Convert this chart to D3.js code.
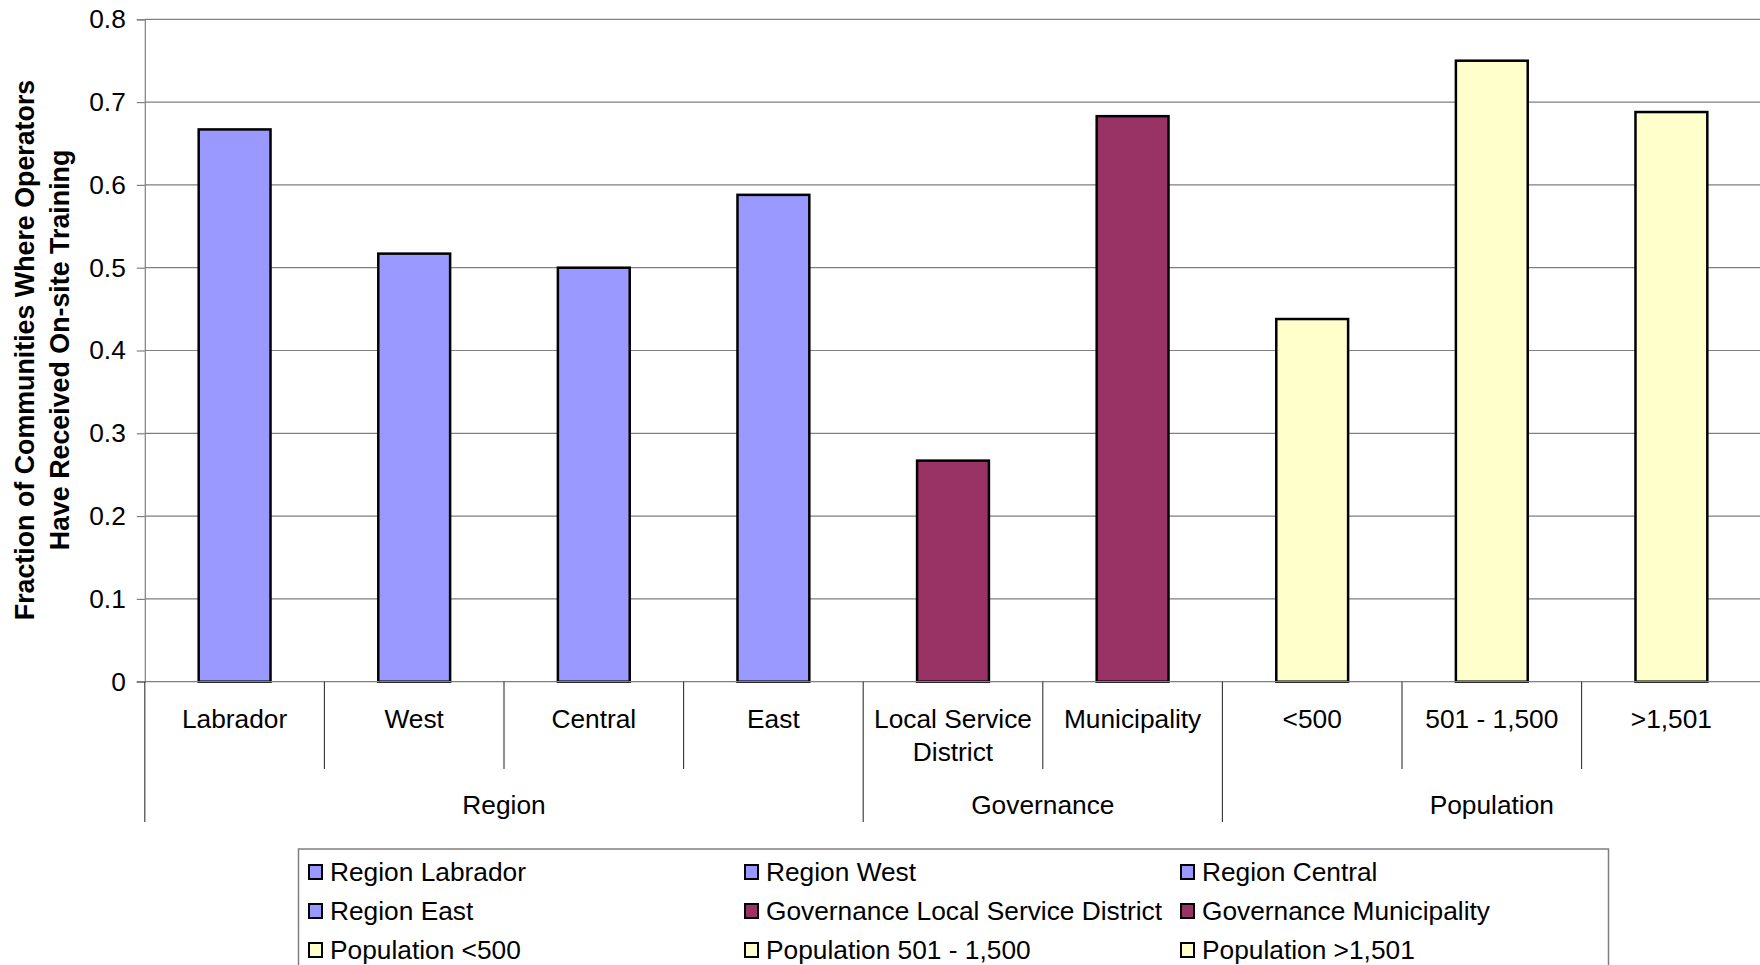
<!DOCTYPE html>
<html>
<head>
<meta charset="utf-8">
<script src="https://cdn.jsdelivr.net/npm/d3@7"></script>
<style>
  html, body { margin: 0; padding: 0; background: #fff; }
  svg { display: block; font-family: "Liberation Sans", Arial, sans-serif; }
</style>
</head>
<body>
<svg id="chart" width="1760" height="965"></svg>
<script>
// Chart data
const groups = ["Region", "Governance", "Population"];
const categories = ["Labrador", "West", "Central", "East", "Local Service District", "Municipality", "<500", "501 - 1,500", ">1,501"];
const categoryGroup = [0, 0, 0, 0, 1, 1, 2, 2, 2];
const values = [0.667, 0.517, 0.5, 0.588, 0.267, 0.683, 0.438, 0.75, 0.688];
const groupColors = ["#9999FF", "#993366", "#FFFFCC"];
const yTicks = [0, 0.1, 0.2, 0.3, 0.4, 0.5, 0.6, 0.7, 0.8];
const yTitleLines = ["Fraction of Communities Where Operators", "Have Received On-site Training"];

const svg = d3.select("#chart");
const W = 1760;
const plot = { left: 144.8, right: 1761.2, top: 19.3, bottom: 681.7 };
const fontSize = 26.3;

const x = d3.scaleBand()
  .domain(categories.map((d, i) => i))
  .range([plot.left, plot.right])
  .paddingInner(0).paddingOuter(0);

const y = d3.scaleLinear().domain([0, 0.8]).range([plot.bottom, plot.top]);

// Horizontal gridlines
svg.append("g")
  .selectAll("line")
  .data(yTicks.filter(t => t > 0))
  .join("line")
  .attr("x1", plot.left).attr("x2", W)
  .attr("y1", d => y(d)).attr("y2", d => y(d))
  .attr("stroke", "#7f7f7f").attr("stroke-width", 1.2);

// Y axis
const yAxis = svg.append("g")
  .attr("transform", `translate(${plot.left},0)`)
  .call(d3.axisLeft(y).tickValues(yTicks).tickSize(8).tickPadding(11)
    .tickFormat(d => d === 0 ? "0" : d3.format(".1f")(d)));
yAxis.select(".domain").attr("stroke", "#7f7f7f").attr("stroke-width", 1.2);
yAxis.selectAll(".tick line").attr("stroke", "#7f7f7f").attr("stroke-width", 1.2);
yAxis.selectAll(".tick text")
  .attr("font-size", fontSize)
  .attr("font-family", "Liberation Sans, Arial, sans-serif")
  .attr("fill", "#000");

// Bars
svg.append("g")
  .selectAll("rect")
  .data(values)
  .join("rect")
  .attr("x", (d, i) => x(i) + x.bandwidth() * 0.3)
  .attr("width", x.bandwidth() * 0.4)
  .attr("y", d => y(d))
  .attr("height", d => y(0) - y(d))
  .attr("fill", (d, i) => groupColors[categoryGroup[i]])
  .attr("stroke", "#000")
  .attr("stroke-width", 2.5);

// Category axis line
svg.append("line")
  .attr("x1", plot.left - 8).attr("x2", W)
  .attr("y1", y(0)).attr("y2", y(0))
  .attr("stroke", "#7f7f7f").attr("stroke-width", 1.2);

// Category separators (short) and group separators (long)
const innerBottom = 769;
const groupBottom = 822;
const boundaries = d3.range(categories.length + 1);
svg.append("g")
  .selectAll("line")
  .data(boundaries)
  .join("line")
  .attr("x1", i => i < categories.length ? x(i) : plot.right)
  .attr("x2", i => i < categories.length ? x(i) : plot.right)
  .attr("y1", y(0))
  .attr("y2", i => (i === 0 || i === categories.length || categoryGroup[i] !== categoryGroup[i - 1]) ? groupBottom : innerBottom)
  .attr("stroke", "#333").attr("stroke-width", 1.1);

// Category labels, wrapped to the band width
const catLabels = svg.append("g")
  .attr("font-size", fontSize)
  .attr("text-anchor", "middle")
  .attr("fill", "#000");
categories.forEach((name, i) => {
  const cx = x(i) + x.bandwidth() / 2;
  const t = catLabels.append("text").attr("x", cx).attr("y", 728);
  const words = name.split(" ");
  let line = [];
  let tspan = t.append("tspan").attr("x", cx).attr("y", 728);
  let lineNo = 0;
  words.forEach(w => {
    line.push(w);
    tspan.text(line.join(" "));
    if (tspan.node().getComputedTextLength() > x.bandwidth() - 8 && line.length > 1) {
      line.pop();
      tspan.text(line.join(" "));
      line = [w];
      lineNo++;
      tspan = t.append("tspan").attr("x", cx).attr("y", 728 + lineNo * 33).text(w);
    }
  });
});

// Group labels
svg.append("g")
  .attr("font-size", fontSize)
  .attr("text-anchor", "middle")
  .selectAll("text")
  .data(groups)
  .join("text")
  .attr("x", (g, gi) => {
    const idx = categoryGroup.map((c, i) => c === gi ? i : -1).filter(i => i >= 0);
    return (x(idx[0]) + x(idx[idx.length - 1]) + x.bandwidth()) / 2;
  })
  .attr("y", 814)
  .text(d => d);

// Y axis title
const yTitle = svg.append("text")
  .attr("transform", "translate(0,350) rotate(-90)")
  .attr("font-size", 26.8)
  .attr("font-weight", "bold")
  .attr("text-anchor", "middle");
yTitleLines.forEach((l, i) => {
  yTitle.append("tspan").attr("x", 0).attr("y", 34 + i * 35).text(l);
});

// Legend
const legend = svg.append("g");
legend.append("rect")
  .attr("x", 298.5).attr("y", 849)
  .attr("width", 1310).attr("height", 140)
  .attr("fill", "#fff").attr("stroke", "#7f7f7f").attr("stroke-width", 1.5);
const colX = [309, 745, 1181];
const rowY = [872, 911, 950];
categories.forEach((name, i) => {
  const cx = colX[i % 3];
  const cy = rowY[Math.floor(i / 3)];
  legend.append("rect")
    .attr("x", cx).attr("y", cy - 7)
    .attr("width", 13).attr("height", 14)
    .attr("fill", groupColors[categoryGroup[i]])
    .attr("stroke", "#000").attr("stroke-width", 2);
  legend.append("text")
    .attr("x", cx + 21).attr("y", cy + 9)
    .attr("font-size", fontSize)
    .text(groups[categoryGroup[i]] + " " + name);
});
</script>
</body>
</html>
